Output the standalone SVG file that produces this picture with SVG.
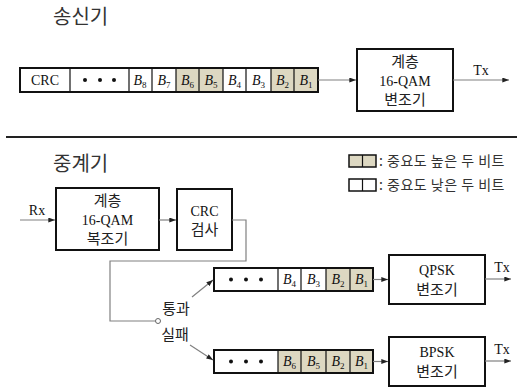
<svg xmlns="http://www.w3.org/2000/svg" width="518" height="390" viewBox="0 0 518 390">
<defs>
<marker id="ah" viewBox="0 0 8 6" refX="8" refY="3" markerWidth="7" markerHeight="5" orient="auto" markerUnits="userSpaceOnUse">
<path d="M0,0 L8,3 L0,6 z" fill="#222"/>
</marker>
<style>
.title{font-family:"Noto Sans CJK KR","Noto Sans",sans-serif;font-size:20px;fill:#333}
.kr{font-family:"Liberation Serif","Noto Sans CJK KR",serif;font-size:15px;fill:#222;text-anchor:middle}
.lat{font-family:"Liberation Serif",serif;font-size:14px;fill:#111;text-anchor:middle}
.b{font-family:"Liberation Serif",serif;font-style:italic;font-size:14px;fill:#111;text-anchor:middle}
.sub{font-size:9px;font-style:normal}
.box{fill:#fff;stroke:#111;stroke-width:2}
.frame{fill:none;stroke:#111;stroke-width:2}
.cell{fill:#fff;stroke:none}
.hi{fill:#ddd8c2;stroke:none}
.div{stroke:#111;stroke-width:1.2}
.conn{fill:none;stroke:#808080;stroke-width:1.2}
.leg{font-family:"Noto Sans CJK KR","Noto Sans",sans-serif;font-size:14px;letter-spacing:0.5px;fill:#333}
</style>
</defs>
<rect width="518" height="390" fill="#fff"/>

<text class="title" x="53" y="24">송신기</text>
<text class="title" x="53" y="171">중계기</text>
<line x1="6" y1="137" x2="517" y2="137" stroke="#222" stroke-width="2.2"/>

<g id="tx-frame">
<rect class="cell" x="20" y="68" width="298" height="24"/>
<rect class="hi" x="176" y="68" width="47" height="24"/>
<rect class="hi" x="271" y="68" width="47" height="24"/>
<line class="div" x1="70" y1="68" x2="70" y2="92" stroke-width="2"/>
<line class="div" x1="129" y1="68" x2="129" y2="92" stroke-width="2"/>
<line class="div" x1="152" y1="68" x2="152" y2="92"/>
<line class="div" x1="176" y1="68" x2="176" y2="92"/>
<line class="div" x1="199" y1="68" x2="199" y2="92"/>
<line class="div" x1="223" y1="68" x2="223" y2="92"/>
<line class="div" x1="246" y1="68" x2="246" y2="92"/>
<line class="div" x1="271" y1="68" x2="271" y2="92"/>
<line class="div" x1="294" y1="68" x2="294" y2="92"/>
<rect class="frame" x="20" y="68" width="298" height="24"/>
<text class="lat" x="45" y="85">CRC</text>
<circle cx="85" cy="80" r="2" fill="#111"/><circle cx="100" cy="80" r="2" fill="#111"/><circle cx="114" cy="80" r="2" fill="#111"/>
<text class="b" x="140" y="85">B<tspan class="sub" dy="3">8</tspan></text>
<text class="b" x="164" y="85">B<tspan class="sub" dy="3">7</tspan></text>
<text class="b" x="187.5" y="85">B<tspan class="sub" dy="3">6</tspan></text>
<text class="b" x="211" y="85">B<tspan class="sub" dy="3">5</tspan></text>
<text class="b" x="234.5" y="85">B<tspan class="sub" dy="3">4</tspan></text>
<text class="b" x="258.5" y="85">B<tspan class="sub" dy="3">3</tspan></text>
<text class="b" x="282.5" y="85">B<tspan class="sub" dy="3">2</tspan></text>
<text class="b" x="306" y="85">B<tspan class="sub" dy="3">1</tspan></text>
</g>

<g id="tx-mod">
<rect class="box" x="357" y="49" width="96" height="62"/>
<text class="kr" x="405" y="67">계층</text>
<text class="lat" x="405" y="86">16-QAM</text>
<text class="kr" x="405" y="105">변조기</text>
</g>

<g id="legend">
<rect class="hi" x="349" y="155" width="27" height="12"/>
<rect x="349" y="155" width="27" height="12" fill="none" stroke="#111" stroke-width="1.5"/>
<line class="div" x1="362.5" y1="155" x2="362.5" y2="167"/>
<text class="leg" x="379" y="166">: 중요도 높은 두 비트</text>
<rect x="349" y="179" width="27" height="12" fill="#fff" stroke="#111" stroke-width="1.5"/>
<line class="div" x1="362.5" y1="179" x2="362.5" y2="191"/>
<text class="leg" x="379" y="190">: 중요도 낮은 두 비트</text>
</g>

<g id="demod">
<rect class="box" x="56" y="188" width="103" height="62"/>
<text class="kr" x="107.5" y="206">계층</text>
<text class="lat" x="107.5" y="225">16-QAM</text>
<text class="kr" x="107.5" y="244">복조기</text>
</g>

<g id="crc-check">
<rect class="box" x="177" y="189" width="55" height="61"/>
<text class="lat" x="204.5" y="216">CRC</text>
<text class="kr" x="204.5" y="235">검사</text>
</g>

<g id="qpsk-frame">
<rect class="cell" x="214" y="268" width="159" height="23"/>
<rect class="hi" x="326" y="268" width="47" height="23"/>
<line class="div" x1="278" y1="268" x2="278" y2="291" stroke-width="2"/>
<line class="div" x1="301" y1="268" x2="301" y2="291"/>
<line class="div" x1="326" y1="268" x2="326" y2="291"/>
<line class="div" x1="350" y1="268" x2="350" y2="291"/>
<rect class="frame" x="214" y="268" width="159" height="23"/>
<circle cx="231" cy="279.5" r="2" fill="#111"/><circle cx="246" cy="279.5" r="2" fill="#111"/><circle cx="261" cy="279.5" r="2" fill="#111"/>
<text class="b" x="289.5" y="284">B<tspan class="sub" dy="3">4</tspan></text>
<text class="b" x="313.5" y="284">B<tspan class="sub" dy="3">3</tspan></text>
<text class="b" x="338" y="284">B<tspan class="sub" dy="3">2</tspan></text>
<text class="b" x="361.5" y="284">B<tspan class="sub" dy="3">1</tspan></text>
</g>

<g id="qpsk-mod">
<rect class="box" x="389" y="255" width="96" height="49"/>
<text class="lat" x="437" y="275">QPSK</text>
<text class="kr" x="437" y="295">변조기</text>
</g>

<g id="bpsk-frame">
<rect class="hi" x="214" y="350" width="159" height="23"/>
<rect class="cell" x="214" y="350" width="64" height="23"/>
<line class="div" x1="278" y1="350" x2="278" y2="373" stroke-width="2"/>
<line class="div" x1="301" y1="350" x2="301" y2="373"/>
<line class="div" x1="326" y1="350" x2="326" y2="373"/>
<line class="div" x1="350" y1="350" x2="350" y2="373"/>
<rect class="frame" x="214" y="350" width="159" height="23"/>
<circle cx="231" cy="361.5" r="2" fill="#111"/><circle cx="246" cy="361.5" r="2" fill="#111"/><circle cx="261" cy="361.5" r="2" fill="#111"/>
<text class="b" x="289.5" y="366">B<tspan class="sub" dy="3">6</tspan></text>
<text class="b" x="313.5" y="366">B<tspan class="sub" dy="3">5</tspan></text>
<text class="b" x="338" y="366">B<tspan class="sub" dy="3">2</tspan></text>
<text class="b" x="361.5" y="366">B<tspan class="sub" dy="3">1</tspan></text>
</g>

<g id="bpsk-mod">
<rect class="box" x="389" y="337" width="96" height="49"/>
<text class="lat" x="437" y="357">BPSK</text>
<text class="kr" x="437" y="377">변조기</text>
</g>

<g id="connectors">
<line class="conn" x1="318" y1="80" x2="356" y2="80" marker-end="url(#ah)"/>
<line class="conn" x1="453" y1="80" x2="509" y2="80" marker-end="url(#ah)"/>
<text class="lat" x="481" y="75" font-size="13">Tx</text>
<line class="conn" x1="20" y1="220" x2="55" y2="220" marker-end="url(#ah)"/>
<text class="lat" x="37" y="215" font-size="13">Rx</text>
<line class="conn" x1="159" y1="220" x2="176" y2="220" marker-end="url(#ah)"/>
<polyline class="conn" points="232,220 246,220 246,261 110,261 110,321 155.5,321"/>
<circle cx="158" cy="321" r="2.5" fill="#fff" stroke="#666" stroke-width="1"/>
<line class="conn" x1="192" y1="297" x2="213" y2="280" marker-end="url(#ah)"/>
<line class="conn" x1="190" y1="345" x2="213" y2="360" marker-end="url(#ah)"/>
<text class="kr" x="176" y="314">통과</text>
<text class="kr" x="175" y="340">실패</text>
<line class="conn" x1="373" y1="279.5" x2="388" y2="279.5" marker-end="url(#ah)"/>
<line class="conn" x1="485" y1="279" x2="511" y2="279" marker-end="url(#ah)"/>
<text class="lat" x="502" y="272" font-size="13">Tx</text>
<line class="conn" x1="373" y1="361.5" x2="388" y2="361.5" marker-end="url(#ah)"/>
<line class="conn" x1="485" y1="361" x2="511" y2="361" marker-end="url(#ah)"/>
<text class="lat" x="502" y="354" font-size="13">Tx</text>
</g>
</svg>
